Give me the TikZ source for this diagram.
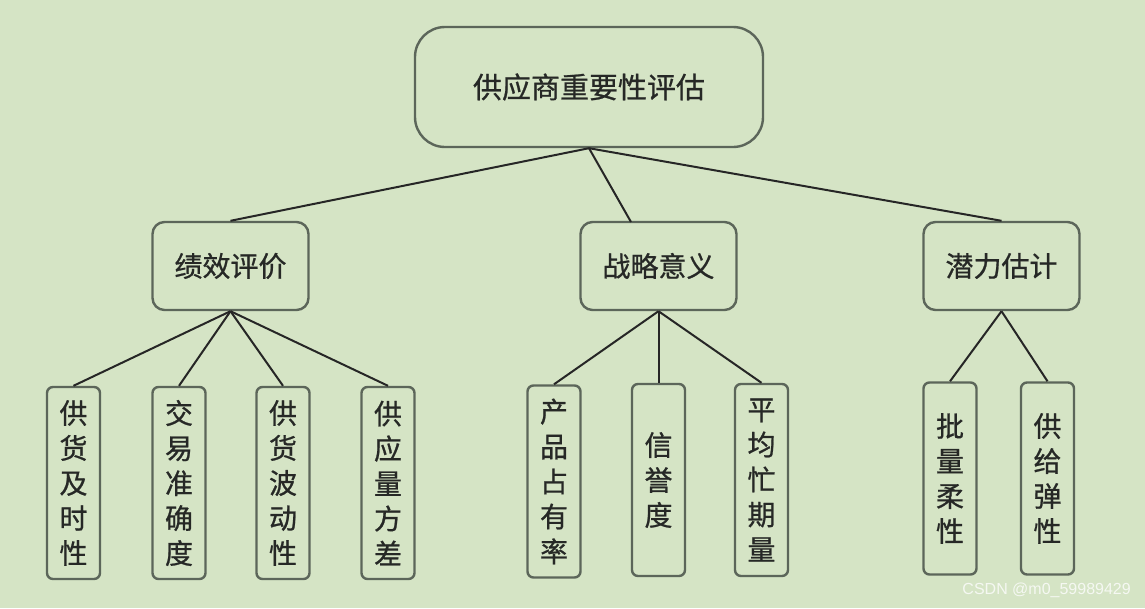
\documentclass[tikz,border=0pt]{standalone}
\usepackage{fontspec}
\newfontfamily\cjk[FakeBold=0.8]{Noto Sans CJK SC}
\setsansfont{Liberation Sans}
\definecolor{bg}{RGB}{213,228,197}
\definecolor{boxline}{RGB}{92,102,90}
\definecolor{txt}{RGB}{38,40,38}
\definecolor{wm}{RGB}{245,248,242}
\begin{document}
\begin{tikzpicture}[x=1pt,y=-1pt,
  base/.style={draw=boxline,line width=2.4pt,fill=bg,text=txt,inner sep=0pt,font=\cjk\fontsize{28}{35}\selectfont,align=center},
  rootbox/.style={base,rounded corners=30pt,minimum width=348pt,minimum height=120pt,font=\cjk\fontsize{29}{35}\selectfont},
  midbox/.style={base,rounded corners=12pt,minimum width=156pt,minimum height=88pt},
  leafbox/.style={base,rounded corners=6pt,minimum width=53pt,minimum height=192pt},
  link/.style={draw=black!85,line width=2pt}]
\fill[bg] (0,0) rectangle (1145,608);
\useasboundingbox (0,0) rectangle (1145,608);
\node[rootbox] (root) at (589,87) {供应商重要性评估};
\node[midbox] (a) at (230.5,266) {绩效评价};
\node[midbox] (b) at (658.5,266) {战略意义};
\node[midbox] (c) at (1001.5,266) {潜力估计};
\coordinate (bt) at (631,222);
\node[leafbox] (a1) at (73.5,483) {供\\货\\及\\时\\性};
\node[leafbox] (a2) at (179,483) {交\\易\\准\\确\\度};
\node[leafbox] (a3) at (283,483) {供\\货\\波\\动\\性};
\node[leafbox] (a4) at (388,483) {供\\应\\量\\方\\差};
\node[leafbox] (b1) at (554,481.5) {产\\品\\占\\有\\率};
\node[leafbox] (b2) at (658.5,480) {信\\誉\\度};
\node[leafbox] (b3) at (761.5,480) {平\\均\\忙\\期\\量};
\node[leafbox] (c1) at (950,478.5) {批\\量\\柔\\性};
\node[leafbox] (c2) at (1047.5,478.5) {供\\给\\弹\\性};
\draw[link] (root.south) -- (a.north);
\draw[link] (root.south) -- (bt);
\draw[link] (root.south) -- (c.north);
\foreach \n in {a1,a2,a3,a4} \draw[link] (a.south) -- (\n.north);
\foreach \n in {b1,b2,b3} \draw[link] (b.south) -- (\n.north);
\foreach \n in {c1,c2} \draw[link] (c.south) -- (\n.north);
\node[text=wm,font=\sffamily\fontsize{16}{16}\selectfont,anchor=east,inner sep=0pt] (wmark) at (1131,590) {CSDN @m0\_59989429};
\end{tikzpicture}
\end{document}
